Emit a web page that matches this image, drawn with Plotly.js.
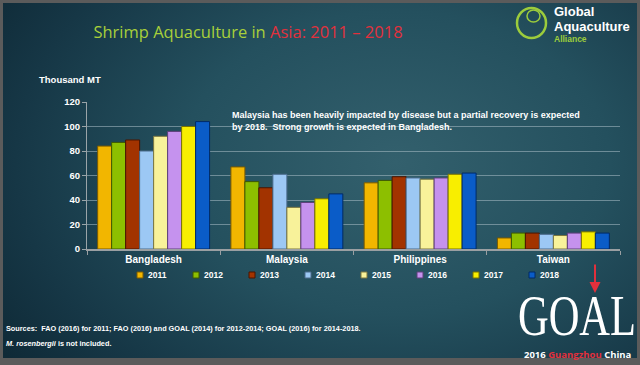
<!DOCTYPE html>
<html><head><meta charset="utf-8">
<script src="https://cdn.plot.ly/plotly-3.0.1.min.js"></script>
<style>
html,body{margin:0;padding:0;width:640px;height:365px;overflow:hidden;background:#5b5b5b;}
#wrap{position:absolute;left:3px;top:3px;width:634px;height:355px;
background:radial-gradient(ellipse 75% 95% at 62% 45%, #33606d 0%, #24505e 45%, #163746 80%, #0f2a37 100%);}
#chart{position:absolute;left:0;top:0;width:640px;height:365px;}
#goal{position:absolute;left:577px;top:296px;white-space:nowrap;color:#fff;
font-family:'Liberation Serif',serif;font-size:56px;line-height:40px;transform:translateX(-50%) scaleX(0.76);transform-origin:center;pointer-events:none;}
</style></head>
<body><div id="wrap"></div><div id="chart"></div><div id="goal">GOAL</div>
<script>
const countries = ['Bangladesh','Malaysia','Philippines','Taiwan'];
const years = ['2011','2012','2013','2014','2015','2016','2017','2018'];
const v2011 = [84, 67, 54, 9];
const v2012 = [87, 55, 56, 13];
const v2013 = [89, 50, 59, 13];
const v2014 = [80, 61, 58, 12];
const v2015 = [92, 34, 57, 11];
const v2016 = [96, 38, 58, 13];
const v2017 = [100, 41, 61, 14];
const v2018 = [104, 45, 62, 13];
const yTicks = [0,20,40,60,80,100,120];

const series = [v2011,v2012,v2013,v2014,v2015,v2016,v2017,v2018];
const colors = ['#f2b600','#8dbf00','#a23300','#9cc8f4','#f8f29a','#c592ee','#f8ee00','#0a5cc8'];
const lines  = ['#7a5a00','#3f5a00','#4a1500','#4a6a8a','#7a7640','#5e3f7a','#7a7400','#002b66'];

const txt = {family:'Liberation Sans, Arial, sans-serif', color:'#ffffff', weight:'bold'};

// pixel -> paper helpers (plot area: x 87..620, y 102..249)
const PX = p => (p-87)/533;
const PY = p => (249-p)/147;

const traces = series.map((v,i)=>({
  type:'bar', name:years[i], x:countries, y:v,
  marker:{color:colors[i], line:{color:lines[i], width:1}},
  hoverinfo:'skip'
}));

// legend drawn as swatches + labels
const legShapes = years.map((yr,i)=>({
  type:'rect', xref:'paper', yref:'paper',
  x0:PX(137+56*i), x1:PX(143+56*i), y0:PY(278), y1:PY(272),
  fillcolor:colors[i], line:{color:lines[i], width:1}
}));
const legAnn = years.map((yr,i)=>({
  text:yr, xref:'paper', yref:'paper', x:PX(146+56*i), y:PY(275), xanchor:'left', yanchor:'middle',
  showarrow:false, font:Object.assign({}, txt, {size:8.5})
}));

const layout = {
  width:640, height:365,
  paper_bgcolor:'rgba(0,0,0,0)', plot_bgcolor:'rgba(0,0,0,0)',
  margin:{l:87, r:20, t:102, b:116},
  barmode:'group', bargap:0.16, bargroupgap:0,
  showlegend:false,
  title:{text:"Shrimp Aquaculture in <span style='color:#e2303c'>Asia: 2011 – 2018</span>",
    x:248/640, xref:'container', xanchor:'center', y:1-32/365, yref:'container', yanchor:'middle',
    font:{family:'Open Sans, sans-serif', size:16.5, color:'#a8d03a'}},
  xaxis:{type:'category', tickfont:Object.assign({}, txt, {size:10}),
    showline:true, linecolor:'#9a9fa2', linewidth:2, ticks:'outside', tickson:'boundaries',
    ticklen:4, tickcolor:'#9a9fa2', showgrid:false, fixedrange:true},
  yaxis:{range:[0,120], tickvals:yTicks, ticktext:yTicks.map(String),
    tickfont:Object.assign({}, txt, {size:9.5}),
    showline:true, linecolor:'#9aa4a8', linewidth:1, ticks:'outside', ticklen:4, tickcolor:'#9aa4a8',
    showgrid:true, gridcolor:'rgba(170,190,198,0.55)', gridwidth:1, zeroline:false, fixedrange:true},
  annotations:[
    {text:'Thousand MT', xref:'paper', yref:'paper', x:PX(37), y:PY(79), xanchor:'left', yanchor:'middle',
      showarrow:false, font:Object.assign({}, txt, {size:9.5})},
    {text:'Malaysia has been heavily impacted by disease but a partial recovery is expected<br>by 2018.  Strong growth is expected in Bangladesh.',
      xref:'paper', yref:'paper', x:PX(230), y:PY(108), xanchor:'left', yanchor:'top', align:'left',
      showarrow:false, font:Object.assign({}, txt, {size:9})},
    {text:"Sources:  FAO (2016) for 2011; FAO (2016) and GOAL (2014) for 2012-2014; GOAL (2016) for 2014-2018.",
      xref:'paper', yref:'paper', x:PX(4), y:PY(328), xanchor:'left', yanchor:'middle', align:'left',
      showarrow:false, font:Object.assign({}, txt, {size:7.3})},
    {text:"<i>M. rosenbergii</i> is not included.",
      xref:'paper', yref:'paper', x:PX(4), y:PY(343), xanchor:'left', yanchor:'middle', align:'left',
      showarrow:false, font:Object.assign({}, txt, {size:7.3})},
    {text:'Global', xref:'paper', yref:'paper', x:PX(552), y:PY(11.5), xanchor:'left', yanchor:'middle',
      showarrow:false, font:{family:'Liberation Sans, Arial, sans-serif', size:13, color:'#ffffff', weight:'bold'}},
    {text:'Aquaculture', xref:'paper', yref:'paper', x:PX(552), y:PY(26.5), xanchor:'left', yanchor:'middle',
      showarrow:false, font:{family:'Liberation Sans, Arial, sans-serif', size:13, color:'#ffffff', weight:'bold'}},
    {text:'Alliance', xref:'paper', yref:'paper', x:PX(552), y:PY(39), xanchor:'left', yanchor:'middle',
      showarrow:false, font:{family:'Liberation Sans, Arial, sans-serif', size:8.5, color:'#9ccc3c', weight:'bold'}},
    {text:"2016 <span style='color:#e2303c'>Guangzhou</span> China", xref:'paper', yref:'paper', x:PX(578), y:PY(354),
      xanchor:'center', yanchor:'middle', showarrow:false, font:{family:'Open Sans, sans-serif', size:9.5, color:'#ffffff', weight:'bold'}},
    {text:'', xref:'paper', yref:'paper', x:PX(595), y:PY(293), ax:0, ay:-30,
      showarrow:true, arrowhead:2, arrowsize:1.1, arrowwidth:2, arrowcolor:'#e2303c'}
  ].concat(legAnn),
  shapes:[
    {type:'circle', xref:'paper', yref:'paper', x0:PX(517), x1:PX(546), y0:PY(38), y1:PY(8),
      line:{color:'#9ccc3c', width:2.5}},
    {type:'circle', xref:'paper', yref:'paper', x0:PX(527), x1:PX(540), y0:PY(22), y1:PY(10),
      line:{color:'#9ccc3c', width:1.5}}
  ].concat(legShapes)
};
Plotly.newPlot('chart', traces, layout, {displayModeBar:false, staticPlot:true});
</script></body></html>
